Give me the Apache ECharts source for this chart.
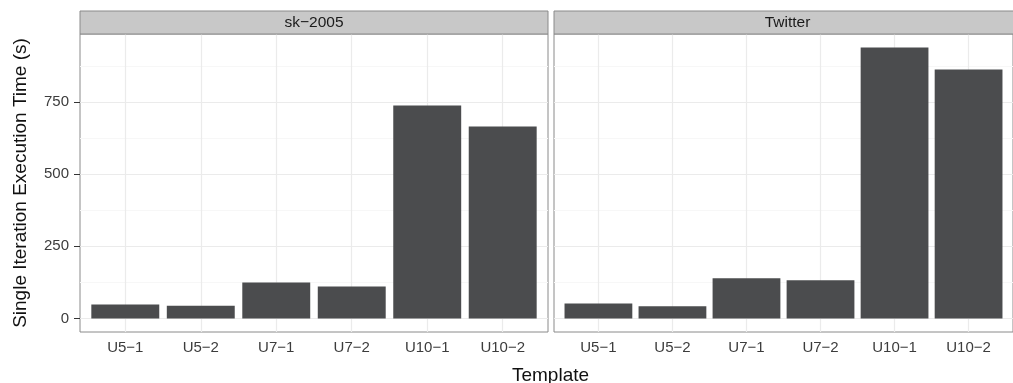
<!DOCTYPE html>
<html>
<head>
<meta charset="utf-8">
<script src="https://cdn.jsdelivr.net/npm/echarts@6/dist/echarts.min.js"></script>
<style>
  html, body { margin: 0; padding: 0; background: #ffffff; }
  #chart { width: 1013px; height: 383px; }
</style>
</head>
<body>
<div id="chart"></div>
<script>
// Categories, panels and measured times (seconds)
const templates = ['U5−1', 'U5−2', 'U7−1', 'U7−2', 'U10−1', 'U10−2'];
const panelNames = ['sk−2005', 'Twitter'];
const sk2005Times = [48, 44, 125, 111, 738, 665];
const twitterTimes = [52, 42, 139, 132, 939, 863];
const yMajorTicks = [0, 250, 500, 750];
const yMinorTicks = [125, 375, 625, 875];

const panelSeries = [sk2005Times, twitterTimes];

// Layout and style
const FONT = '"Liberation Sans", Arial, Helvetica, sans-serif';
const PANEL_TOP = 34, PANEL_H = 298, STRIP_TOP = 11, STRIP_H = 23;
const panels = [{ left: 80, width: 468 }, { left: 554, width: 467 }];
const BORDER = '#8a8a8a';
const MAJOR_GRID = '#ebebeb';
const MINOR_GRID = '#f7f7f7';
const BAR = '#4b4c4e';
const TICK_TEXT = '#3c3c3c';

// Discrete x scale: positions 1..n, padded by 0.6 on each side
const xPos = templates.map((_, i) => i + 1);
const xMin = 1 - 0.6, xMax = templates.length + 0.6;

// Continuous y scale: 5% padding around [0, max]
const maxVal = Math.max(...sk2005Times, ...twitterTimes);
const yMin = -0.05 * maxVal, yMax = maxVal * 1.05;

const chart = echarts.init(document.getElementById('chart'), null, { renderer: 'canvas' });

const grids = [], xAxes = [], yAxes = [], series = [], graphics = [];

panels.forEach((p, k) => {
  grids.push({
    left: p.left, top: PANEL_TOP, width: p.width, height: PANEL_H,
    show: true, borderColor: BORDER, borderWidth: 1, backgroundColor: 'transparent',
    containLabel: false
  });
  xAxes.push({
    type: 'value', gridIndex: k, min: xMin, max: xMax,
    axisLine: { show: false },
    splitLine: { show: false },
    axisTick: { show: true, customValues: xPos, length: 6, lineStyle: { color: '#333333', width: 1 } },
    axisLabel: {
      show: true, customValues: xPos, margin: 8,
      formatter: v => templates[Math.round(v) - 1] || '',
      fontFamily: FONT, fontSize: 15, color: TICK_TEXT
    }
  });
  yAxes.push({
    type: 'value', gridIndex: k, min: yMin, max: yMax,
    axisLine: { show: false },
    splitLine: { show: false },
    axisTick: { show: k === 0, customValues: yMajorTicks, length: 6, lineStyle: { color: '#333333', width: 1 } },
    axisLabel: {
      show: k === 0, customValues: yMajorTicks, margin: 11,
      fontFamily: FONT, fontSize: 15, color: TICK_TEXT
    },
    name: k === 0 ? 'Single Iteration Execution Time (s)' : '',
    nameLocation: 'middle', nameGap: 50,
    nameTextStyle: { fontFamily: FONT, fontSize: 19, color: '#111111' }
  });

  // Background grid lines (minor, major, vertical at categories), kept beneath the bars
  series.push({
    type: 'line', xAxisIndex: k, yAxisIndex: k, data: [], z: 1, silent: true,
    markLine: {
      z: 1, silent: true, symbol: ['none', 'none'], label: { show: false }, animation: false,
      data: [
        ...yMinorTicks.map(v => ({ yAxis: v, lineStyle: { color: MINOR_GRID, width: 1, type: 'solid' } })),
        ...yMajorTicks.map(v => ({ yAxis: v, lineStyle: { color: MAJOR_GRID, width: 1.2, type: 'solid' } })),
        ...xPos.map(v => ({ xAxis: v, lineStyle: { color: MAJOR_GRID, width: 1.2, type: 'solid' } }))
      ]
    }
  });

  // Bars
  series.push({
    type: 'bar', xAxisIndex: k, yAxisIndex: k, z: 6,
    barWidth: p.width / (xMax - xMin) * 0.9,
    itemStyle: { color: BAR },
    data: panelSeries[k].map((v, i) => [xPos[i], v])
  });

  // Facet strip
  graphics.push({
    type: 'rect', z: 10,
    shape: { x: p.left, y: STRIP_TOP, width: p.width, height: STRIP_H },
    style: { fill: '#c8c8c8', stroke: BORDER, lineWidth: 1 }
  });
  graphics.push({
    type: 'text', z: 11,
    x: p.left + p.width / 2, y: STRIP_TOP + STRIP_H / 2,
    style: {
      text: panelNames[k], fontFamily: FONT, fontSize: 15.5, fill: '#1a1a1a',
      textAlign: 'center', textVerticalAlign: 'middle'
    }
  });
});

// Shared x-axis title
graphics.push({
  type: 'text', z: 11,
  x: (panels[0].left + panels[1].left + panels[1].width) / 2, y: 375.5,
  style: {
    text: 'Template', fontFamily: FONT, fontSize: 19, fill: '#111111',
    textAlign: 'center', textVerticalAlign: 'middle'
  }
});

chart.setOption({
  animation: false,
  backgroundColor: '#ffffff',
  grid: grids,
  xAxis: xAxes,
  yAxis: yAxes,
  series: series,
  graphic: graphics
});
</script>
</body>
</html>
